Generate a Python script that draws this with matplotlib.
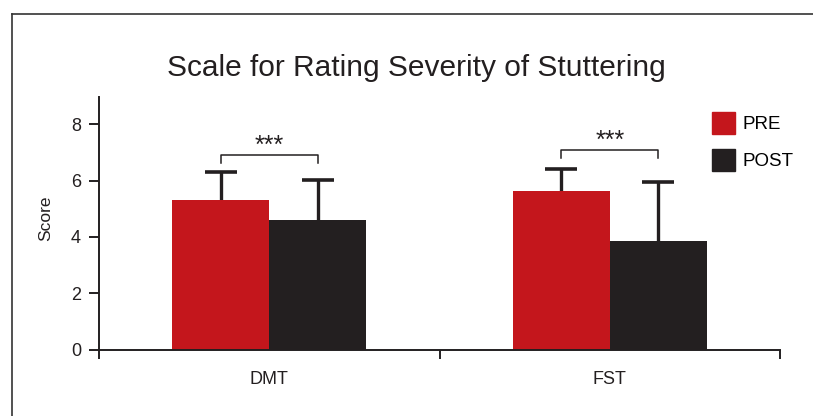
import numpy as np
import matplotlib
matplotlib.use("Agg")
import matplotlib.pyplot as plt
from matplotlib.lines import Line2D
from matplotlib.patches import Patch

plt.rcParams['font.family'] = ['Liberation Sans', 'DejaVu Sans']

# data
groups = ['DMT', 'FST']
pre_mean = [5.30, 5.62]
pre_err = [1.02, 0.79]
post_mean = [4.59, 3.84]
post_err = [1.42, 2.11]
sig_y = [6.92, 7.10]          # height of the significance brackets
sig_text = ['***', '***']

red = '#C4161C'
dark = '#231F20'

fig = plt.figure(figsize=(8.13, 4.16), dpi=100)
ax = fig.add_axes([0.1218, 0.1594, 0.8376, 0.6077])

x = np.arange(len(groups)) + 0.5
w = 0.285

ax.bar(x - w / 2, pre_mean, w, color=red, label='PRE', zorder=2)
ax.bar(x + w / 2, post_mean, w, color=dark, label='POST', zorder=2)

# upward-only error bars, lower caps hidden
for xs, m, e in [(x - w / 2, pre_mean, pre_err), (x + w / 2, post_mean, post_err)]:
    _, caps, _ = ax.errorbar(xs, m, yerr=[np.zeros(2), e], fmt='none',
                             ecolor=dark, elinewidth=2.4, capsize=11.5,
                             capthick=2.6, zorder=1)
    caps[0].set_visible(False)

# significance brackets
for xi, yi, s in zip(x, sig_y, sig_text):
    ax.plot([xi - w / 2, xi - w / 2, xi + w / 2, xi + w / 2],
            [yi - 0.31, yi, yi, yi - 0.31], color=dark, lw=1.1, zorder=3)
    ax.text(xi, yi - 0.1, s, ha='center', va='bottom', fontsize=18,
            color=dark)

ax.set_xlim(0, 2)
ax.set_ylim(0, 8.97)
ax.set_yticks([0, 2, 4, 6, 8])
ax.set_xticks([0, 1, 2])
ax.set_xticklabels([])
ax.set_xticks(x, minor=True)
ax.set_xticklabels(groups, minor=True)

for side in ['top', 'right']:
    ax.spines[side].set_visible(False)
for side in ['left', 'bottom']:
    ax.spines[side].set_linewidth(1.4)
    ax.spines[side].set_color(dark)

ax.tick_params(axis='y', direction='out', length=7, width=1.4, color=dark,
               labelsize=13, pad=6, labelcolor=dark)
ax.tick_params(axis='x', which='major', direction='out', length=6.5,
               width=1.4, color=dark)
ax.tick_params(axis='x', which='minor', length=0, labelsize=13, pad=15,
               labelcolor=dark)

ax.set_ylabel('Score', fontsize=12.5, color=dark)
ax.yaxis.set_label_coords(-0.067, 0.52)

handles = [Patch(color=red, label='PRE'), Patch(color=dark, label='POST')]
ax.legend(handles=handles, loc='upper left', bbox_to_anchor=(0.9, 0.94),
          frameon=False, fontsize=13.5, handlelength=1.23, handleheight=1.41,
          handletextpad=0.42, labelspacing=0.8, borderaxespad=0,
          borderpad=0)

fig.text(0.512, 0.8365, 'Scale for Rating Severity of Stuttering',
         ha='center', va='center', fontsize=21.5, color=dark)

# outer frame (top and left edges only are visible in the crop)
fx = 12 / 813
fy = 1 - 14 / 416
fig.add_artist(Line2D([fx, 1], [fy, fy], transform=fig.transFigure,
                      color='#333333', lw=1.2))
fig.add_artist(Line2D([fx, fx], [0, fy], transform=fig.transFigure,
                      color='#333333', lw=1.2))

fig.savefig('out.png', dpi=100)
